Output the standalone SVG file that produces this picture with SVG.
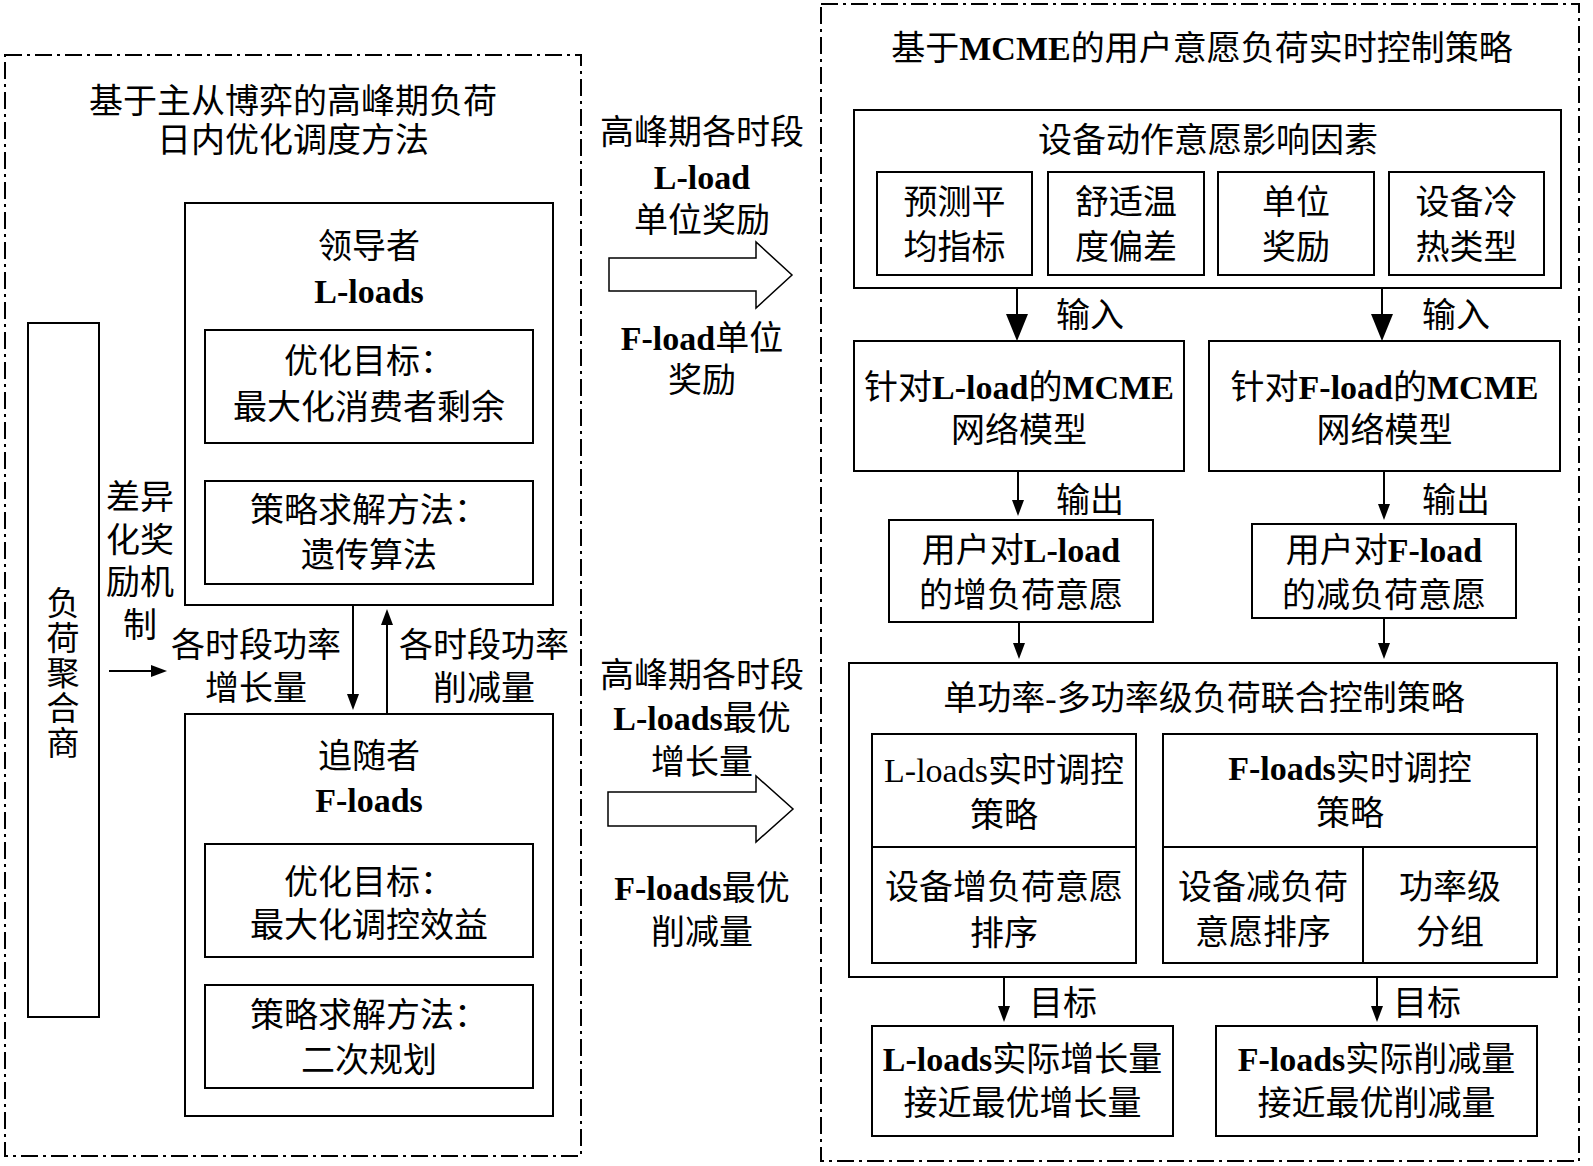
<svg xmlns="http://www.w3.org/2000/svg" width="1593" height="1166" viewBox="0 0 1593 1166">
<style>
text{font-family:"Liberation Serif","Noto Sans CJK SC",serif;font-size:34px;fill:#000;text-anchor:middle}
.b{font-weight:bold}
.box{fill:#fff;stroke:#000;stroke-width:2}
.dash{fill:none;stroke:#000;stroke-width:2;stroke-dasharray:17 5 3 5}
.ln{fill:none;stroke:#000;stroke-width:2}
.hollow{fill:#fff;stroke:#000;stroke-width:1.5}
.v{font-size:33px}
</style>
<defs>
<marker id="big" markerUnits="userSpaceOnUse" viewBox="0 0 27 22" refX="17" refY="11" markerWidth="27" markerHeight="22" orient="auto"><path d="M0,0 L27,11 L0,22 Z" fill="#000"/></marker>
<marker id="sm" markerUnits="userSpaceOnUse" viewBox="0 0 16 12" refX="10" refY="6" markerWidth="16" markerHeight="12" orient="auto"><path d="M0,0 L16,6 L0,12 Z" fill="#000"/></marker>
</defs>

<g id="left-panel">
<rect class="dash" x="5" y="55" width="576" height="1101"/>
<text x="293" y="113">基于主从博弈的高峰期负荷</text>
<text x="293" y="152">日内优化调度方法</text>
</g>

<g id="aggregator">
<rect class="box" x="28" y="323" width="71" height="694"/>
<text x="63" y="615" class="v">负</text>
<text x="63" y="650" class="v">荷</text>
<text x="63" y="685" class="v">聚</text>
<text x="63" y="720" class="v">合</text>
<text x="63" y="755" class="v">商</text>
</g>

<g id="leader">
<rect class="box" x="185" y="203" width="368" height="402"/>
<text x="369" y="258">领导者</text>
<text x="369" y="303" class="b">L-loads</text>
</g>
<g id="leader-objective">
<rect class="box" x="205" y="330" width="328" height="113"/>
<text x="369" y="373">优化目标：</text>
<text x="369" y="419">最大化消费者剩余</text>
</g>
<g id="leader-method">
<rect class="box" x="205" y="481" width="328" height="103"/>
<text x="369" y="522">策略求解方法：</text>
<text x="369" y="567">遗传算法</text>
</g>

<g id="follower">
<rect class="box" x="185" y="714" width="368" height="402"/>
<text x="369" y="768">追随者</text>
<text x="369" y="812" class="b">F-loads</text>
</g>
<g id="follower-objective">
<rect class="box" x="205" y="844" width="328" height="113"/>
<text x="369" y="894">优化目标：</text>
<text x="369" y="937">最大化调控效益</text>
</g>
<g id="follower-method">
<rect class="box" x="205" y="985" width="328" height="103"/>
<text x="369" y="1027">策略求解方法：</text>
<text x="369" y="1072">二次规划</text>
</g>

<g id="labels-left">
<text x="140" y="509">差异</text>
<text x="140" y="552">化奖</text>
<text x="140" y="594">励机</text>
<text x="140" y="637">制</text>
<text x="256" y="657">各时段功率</text>
<text x="256" y="700">增长量</text>
<text x="484" y="657">各时段功率</text>
<text x="484" y="700">削减量</text>
</g>

<g id="middle">
<text x="702" y="144">高峰期各时段</text>
<text x="702" y="189" class="b">L-load</text>
<text x="702" y="232">单位奖励</text>
<text x="702" y="350"><tspan class="b">F-load</tspan>单位</text>
<text x="702" y="392">奖励</text>
<polygon class="hollow" points="609,258 756,258 756,242 792,275 756,308 756,291 609,291"/>
<text x="702" y="687">高峰期各时段</text>
<text x="702" y="730"><tspan class="b">L-loads</tspan>最优</text>
<text x="702" y="774">增长量</text>
<text x="702" y="900"><tspan class="b">F-loads</tspan>最优</text>
<text x="702" y="944">削减量</text>
<polygon class="hollow" points="608,792 756,792 756,776 793,809 756,842 756,826 608,826"/>
</g>

<g id="right-panel">
<rect class="dash" x="821" y="4" width="758" height="1157"/>
<text x="1202" y="60">基于<tspan class="b">MCME</tspan>的用户意愿负荷实时控制策略</text>
</g>

<g id="factors">
<rect class="box" x="854" y="110" width="707" height="178"/>
<text x="1208" y="152">设备动作意愿影响因素</text>
</g>
<g id="factor1">
<rect class="box" x="877" y="172" width="155" height="103"/>
<text x="954.5" y="214">预测平</text>
<text x="954.5" y="259">均指标</text>
</g>
<g id="factor2">
<rect class="box" x="1048" y="172" width="156" height="103"/>
<text x="1126" y="214">舒适温</text>
<text x="1126" y="259">度偏差</text>
</g>
<g id="factor3">
<rect class="box" x="1218" y="172" width="156" height="103"/>
<text x="1296" y="214">单位</text>
<text x="1296" y="259">奖励</text>
</g>
<g id="factor4">
<rect class="box" x="1389" y="172" width="155" height="103"/>
<text x="1466.5" y="214">设备冷</text>
<text x="1466.5" y="259">热类型</text>
</g>

<g id="mcme-l">
<rect class="box" x="854" y="341" width="330" height="130"/>
<text x="1019" y="399">针对<tspan class="b">L-load</tspan>的<tspan class="b">MCME</tspan></text>
<text x="1019" y="442">网络模型</text>
</g>
<g id="mcme-f">
<rect class="box" x="1209" y="341" width="351" height="130"/>
<text x="1384.5" y="399">针对<tspan class="b">F-load</tspan>的<tspan class="b">MCME</tspan></text>
<text x="1384.5" y="442">网络模型</text>
</g>

<g id="will-l">
<rect class="box" x="889" y="520" width="264" height="102"/>
<text x="1021" y="562">用户对<tspan class="b">L-load</tspan></text>
<text x="1021" y="607">的增负荷意愿</text>
</g>
<g id="will-f">
<rect class="box" x="1252" y="524" width="264" height="94"/>
<text x="1384" y="562">用户对<tspan class="b">F-load</tspan></text>
<text x="1384" y="607">的减负荷意愿</text>
</g>

<g id="joint">
<rect class="box" x="849" y="663" width="708" height="314"/>
<text x="1204" y="710">单功率-多功率级负荷联合控制策略</text>
</g>
<g id="l-strategy">
<rect class="box" x="872" y="734" width="264" height="229"/>
<line class="ln" x1="872" y1="847" x2="1136" y2="847"/>
<text x="1004" y="782">L-loads实时调控</text>
<text x="1004" y="827">策略</text>
<text x="1004" y="899">设备增负荷意愿</text>
<text x="1004" y="945">排序</text>
</g>
<g id="f-strategy">
<rect class="box" x="1163" y="734" width="374" height="229"/>
<line class="ln" x1="1163" y1="847" x2="1537" y2="847"/>
<line class="ln" x1="1363" y1="847" x2="1363" y2="963"/>
<text x="1350" y="780"><tspan class="b">F-loads</tspan>实时调控</text>
<text x="1350" y="825">策略</text>
<text x="1263" y="899">设备减负荷</text>
<text x="1263" y="944">意愿排序</text>
<text x="1450" y="899">功率级</text>
<text x="1450" y="944">分组</text>
</g>

<g id="result-l">
<rect class="box" x="872" y="1026" width="301" height="110"/>
<text x="1022.5" y="1071"><tspan class="b">L-loads</tspan>实际增长量</text>
<text x="1022.5" y="1115">接近最优增长量</text>
</g>
<g id="result-f">
<rect class="box" x="1216" y="1026" width="321" height="110"/>
<text x="1376.5" y="1071"><tspan class="b">F-loads</tspan>实际削减量</text>
<text x="1376.5" y="1115">接近最优削减量</text>
</g>

<g id="connectors">
<line class="ln" x1="109" y1="671" x2="161" y2="671" marker-end="url(#sm)"/>
<line class="ln" x1="353" y1="605" x2="353" y2="704" marker-end="url(#sm)"/>
<line class="ln" x1="387" y1="714" x2="387" y2="615" marker-end="url(#sm)"/>
<line class="ln" x1="1017" y1="288" x2="1017" y2="331" marker-end="url(#big)"/>
<line class="ln" x1="1382" y1="288" x2="1382" y2="331" marker-end="url(#big)"/>
<line class="ln" x1="1018" y1="471" x2="1018" y2="510" marker-end="url(#sm)"/>
<line class="ln" x1="1384" y1="471" x2="1384" y2="514" marker-end="url(#sm)"/>
<line class="ln" x1="1019" y1="622" x2="1019" y2="653" marker-end="url(#sm)"/>
<line class="ln" x1="1384" y1="618" x2="1384" y2="653" marker-end="url(#sm)"/>
<line class="ln" x1="1004" y1="977" x2="1004" y2="1016" marker-end="url(#sm)"/>
<line class="ln" x1="1377" y1="977" x2="1377" y2="1016" marker-end="url(#sm)"/>
<text x="1090" y="327">输入</text>
<text x="1456" y="327">输入</text>
<text x="1090" y="512">输出</text>
<text x="1456" y="512">输出</text>
<text x="1063" y="1015">目标</text>
<text x="1427" y="1015">目标</text>
</g>
</svg>
